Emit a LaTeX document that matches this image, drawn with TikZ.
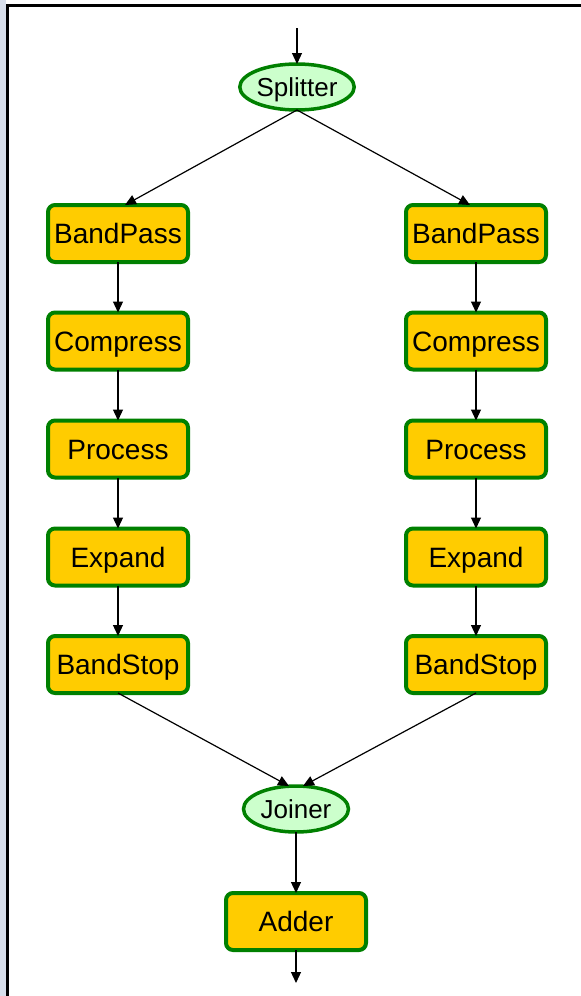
\documentclass[tikz,border=0pt]{standalone}
\usepackage{fontspec}
\setmainfont{Liberation Sans}
\usetikzlibrary{arrows.meta,shapes.geometric}
\definecolor{boxfill}{HTML}{FFCC00}
\definecolor{edgegreen}{HTML}{008000}
\definecolor{ovalfill}{HTML}{CCFFCC}
\definecolor{sidestrip}{HTML}{D8DFEB}
\begin{document}
\begin{tikzpicture}[x=1pt,y=-1pt,
  stage/.style={draw=edgegreen,line width=4pt,fill=boxfill,rounded corners=7pt,
    minimum width=140pt,minimum height=57pt,inner sep=0pt,outer sep=0pt,
    text height=20pt,text depth=0pt,
    font=\fontsize{28}{30}\selectfont},
  oval/.style={ellipse,draw=edgegreen,line width=3.5pt,fill=ovalfill,
    minimum width=105pt,minimum height=46pt,inner sep=0pt,outer sep=0pt,
    text height=18.5pt,text depth=0pt,
    font=\fontsize{26}{28}\selectfont},
  flow/.style={-{Triangle[length=11pt,width=10pt]},line width=1.2pt,black}]
% canvas and window frame
\useasboundingbox (0,0) rectangle (581,996);
\fill[white] (0,0) rectangle (581,996);
\fill[sidestrip] (0,0) rectangle (6,996);
\draw[line width=3pt] (7.5,996) -- (7.5,5) -- (581,5);
% split / join nodes
\node[oval] (split) at (297,87) {Splitter};
\node[oval] (join) at (296,809) {Joiner};
\node[stage] (add) at (296,921.5) {Adder};
% left branch
\node[stage] (bpL) at (118,233.5) {BandPass};
\node[stage] (cmL) at (118,341) {Compress};
\node[stage] (prL) at (118,449) {Process};
\node[stage] (exL) at (118,557) {Expand};
\node[stage] (bsL) at (118,664.5) {BandStop};
% right branch
\node[stage] (bpR) at (476,233.5) {BandPass};
\node[stage] (cmR) at (476,341) {Compress};
\node[stage] (prR) at (476,449) {Process};
\node[stage] (exR) at (476,557) {Expand};
\node[stage] (bsR) at (476,664.5) {BandStop};
% loose ends
\coordinate (in) at (297,28);
\coordinate (out) at (296,983);
% connectors
\draw[flow] (in) -- (split.north);
\draw[flow] (split.south) -- ([xshift=7pt]bpL.north);
\draw[flow] (split.south) -- ([xshift=-6pt]bpR.north);
\foreach \s in {L,R}{
  \draw[flow] (bp\s) -- (cm\s);
  \draw[flow] (cm\s) -- (pr\s);
  \draw[flow] (pr\s) -- (ex\s);
  \draw[flow] (ex\s) -- (bs\s);
}
\draw[flow] (bsL.south) -- ([xshift=-7pt]join.north);
\draw[flow] (bsR.south) -- ([xshift=7pt]join.north);
\draw[flow] (join) -- (add);
\draw[flow] (add.south) -- (out);
\end{tikzpicture}
\end{document}
